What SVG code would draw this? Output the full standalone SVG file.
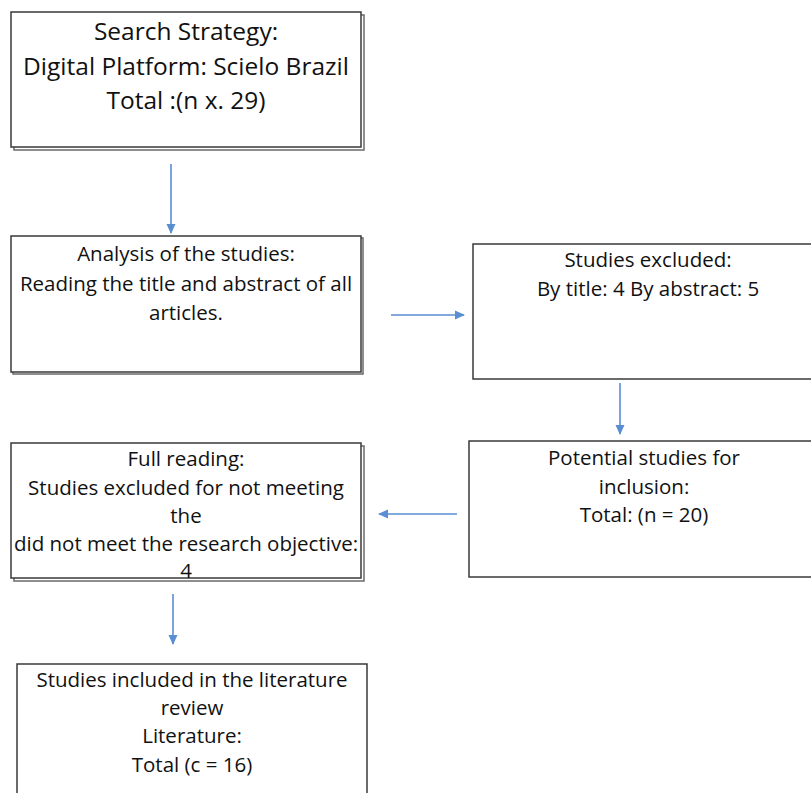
<svg xmlns="http://www.w3.org/2000/svg" width="811" height="793" viewBox="0 0 811 793">
<style>
.box{fill:#fff;stroke:#3a3a3a;stroke-width:1.5}
.shadow{fill:#fff;stroke:#6a6a6a;stroke-width:1.5}
.t{font-family:"Open Sans","Liberation Sans",sans-serif;font-size:20.5px;fill:#111;text-anchor:middle}
.big{font-size:24.5px}
.conn{stroke:#5a8ed2;stroke-width:1.6;fill:none}
</style>
<defs>
<marker id="ah" viewBox="0 0 10 10" refX="9" refY="5" markerWidth="10" markerHeight="10" orient="auto" markerUnits="userSpaceOnUse">
<path d="M0,0.5 L10,5 L0,9.5 z" fill="#5a8ed2"/>
</marker>
</defs>
<rect width="811" height="793" fill="#fff"/>
<g id="connectors">
<line class="conn" x1="171" y1="164" x2="171" y2="233" marker-end="url(#ah)"/>
<line class="conn" x1="391" y1="315" x2="464" y2="315" marker-end="url(#ah)"/>
<line class="conn" x1="620" y1="383" x2="620" y2="434" marker-end="url(#ah)"/>
<line class="conn" x1="457" y1="514" x2="379" y2="514" marker-end="url(#ah)"/>
<line class="conn" x1="173" y1="594" x2="173" y2="644" marker-end="url(#ah)"/>
</g>
<g id="n1">
<rect class="shadow" x="14" y="15" width="350" height="135"/>
<rect class="box" x="11" y="12" width="350" height="135"/>
<text class="t big" x="186" y="40">Search Strategy:</text>
<text class="t big" x="186" y="75">Digital Platform: Scielo Brazil</text>
<text class="t big" x="186" y="109">Total :(n x. 29)</text>
</g>
<g id="n2">
<rect class="shadow" x="13" y="238" width="350" height="136"/>
<rect class="box" x="11" y="236" width="350" height="136"/>
<text class="t" x="186" y="261">Analysis of the studies:</text>
<text class="t" x="186" y="291">Reading the title and abstract of all</text>
<text class="t" x="186" y="320">articles.</text>
</g>
<g id="n3">
<rect class="box" x="473" y="244" width="345" height="135"/>
<text class="t" x="648" y="267">Studies excluded:</text>
<text class="t" x="648" y="296">By title: 4 By abstract: 5</text>
</g>
<g id="n4">
<rect class="box" x="469" y="441" width="350" height="136"/>
<text class="t" x="644" y="465">Potential studies for</text>
<text class="t" x="644" y="494">inclusion:</text>
<text class="t" x="644" y="522">Total: (n = 20)</text>
</g>
<g id="n5">
<rect class="shadow" x="14" y="446" width="350" height="135"/>
<rect class="box" x="11" y="443" width="350" height="135"/>
<text class="t" x="186" y="466">Full reading:</text>
<text class="t" x="186" y="495">Studies excluded for not meeting</text>
<text class="t" x="186" y="523">the</text>
<text class="t" x="186" y="551">did not meet the research objective:</text>
<text class="t" x="186" y="578">4</text>
</g>
<g id="n6">
<rect class="box" x="17" y="664" width="350" height="140"/>
<text class="t" x="192" y="687">Studies included in the literature</text>
<text class="t" x="192" y="715">review</text>
<text class="t" x="192" y="743">Literature:</text>
<text class="t" x="192" y="772">Total (c = 16)</text>
</g>
</svg>
